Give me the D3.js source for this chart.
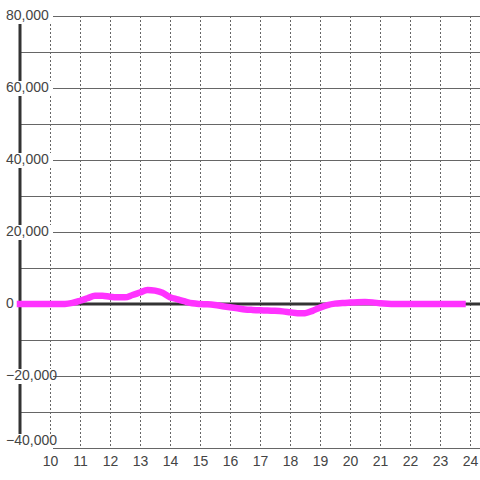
<!DOCTYPE html>
<html>
<head>
<meta charset="utf-8">
<script src="https://cdn.jsdelivr.net/npm/d3@7"></script>
<style>
  html, body { margin: 0; padding: 0; background: #ffffff; }
  svg { display: block; }
  text { font-family: "Liberation Sans", Arial, sans-serif; }
</style>
</head>
<body>
<svg id="chart" width="480" height="480"></svg>
<script>
// ---- data ----
// values every 15 minutes from 9:00 to 23:45
const startHour = 9;
const stepHours = 0.25;
const values = [
  0, 0, 0, 0,                 // 9:00 - 9:45
  0, 0, 0, 300,               // 10
  900, 1600, 2300, 2300,      // 11
  2000, 1850, 1850, 2500,     // 12
  3200, 3900, 3700, 3100,     // 13
  1900, 1300, 700, 200,       // 14
  0, -100, -300, -600,        // 15
  -900, -1200, -1500, -1650,  // 16
  -1750, -1800, -1900, -2050, // 17
  -2300, -2550, -2550, -1900, // 18
  -1000, -300, 100, 250,      // 19
  400, 500, 550, 450,         // 20
  200, 50, 0, 0,              // 21
  0, 0, 0, 0,                 // 22
  0, 0, 0, 0                  // 23
];
const yTicks = [80000, 60000, 40000, 20000, 0, -20000, -40000];
const yGrid = [80000, 70000, 60000, 50000, 40000, 30000, 20000, 10000, 0, -10000, -20000, -30000, -40000];
const xTicks = [10, 11, 12, 13, 14, 15, 16, 17, 18, 19, 20, 21, 22, 23, 24];

// ---- layout ----
const svg = d3.select("#chart");
const mLeft = 20, mRight = 480, mTop = 16, mBottom = 448;

const x = d3.scaleLinear().domain([9, 24 + 1/3]).range([mLeft, mRight]);
const y = d3.scaleLinear().domain([-40000, 80000]).range([mBottom, mTop]);

// horizontal grid lines
svg.append("g").selectAll("line").data(yGrid).join("line")
  .attr("x1", mLeft).attr("x2", mRight)
  .attr("y1", d => y(d)).attr("y2", d => y(d))
  .attr("stroke", "#666").attr("stroke-width", 1)
  .attr("shape-rendering", "crispEdges");

// vertical dashed grid lines
svg.append("g").selectAll("line").data(xTicks).join("line")
  .attr("x1", d => x(d) + 0.5).attr("x2", d => x(d) + 0.5)
  .attr("y1", mTop).attr("y2", mBottom)
  .attr("stroke", "#666").attr("stroke-width", 1)
  .attr("stroke-dasharray", "2,2");

// zero line
svg.append("line")
  .attr("x1", mLeft).attr("x2", mRight)
  .attr("y1", y(0)).attr("y2", y(0))
  .attr("stroke", "#333").attr("stroke-width", 3);

// y axis line
svg.append("line")
  .attr("x1", mLeft).attr("x2", mLeft)
  .attr("y1", mTop).attr("y2", mBottom)
  .attr("stroke", "#333").attr("stroke-width", 3);

// y axis labels (left aligned, with background)
const yAxis = d3.axisLeft(y).tickValues(yTicks).tickSize(0).tickPadding(0)
  .tickFormat(d3.format(","));
const yg = svg.append("g").attr("transform", "translate(6,0)").call(yAxis);
yg.select(".domain").remove();
yg.selectAll(".tick")
  .attr("transform", d => {
    let ty = y(d);
    if (ty + 7 > mBottom) ty = mBottom - 7;   // keep last label inside plot
    return `translate(0,${ty})`;
  });
yg.selectAll(".tick text")
  .attr("text-anchor", "start")
  .attr("x", 0)
  .attr("font-size", 14)
  .attr("fill", "#444")
  .attr("font-family", "'Liberation Sans', Arial, sans-serif");
yg.selectAll(".tick").each(function(d) {
  const t = d3.select(this);
  const bb = t.select("text").node().getBBox();
  const wRight = d === 0 ? bb.x + bb.width + 1 : 47;
  t.insert("rect", "text")
    .attr("x", bb.x - 1).attr("y", -7)
    .attr("width", wRight - bb.x + 1).attr("height", 15)
    .attr("fill", "#ffffff");
});

// x axis labels
const xAxis = d3.axisBottom(x).tickValues(xTicks).tickSize(0).tickPadding(8)
  .tickFormat(d3.format("d"));
const xg = svg.append("g").attr("transform", `translate(0,${mBottom})`).call(xAxis);
xg.select(".domain").remove();
xg.selectAll(".tick text")
  .attr("font-size", 14)
  .attr("fill", "#444")
  .attr("font-family", "'Liberation Sans', Arial, sans-serif");

// data line
const line = d3.line()
  .x((d, i) => x(startHour + i * stepHours))
  .y(d => y(d))
  .curve(d3.curveMonotoneX);
svg.append("path")
  .datum(values)
  .attr("d", line)
  .attr("fill", "none")
  .attr("stroke", "#ff33ff")
  .attr("stroke-width", 6.5)
  .attr("stroke-linejoin", "round")
  .attr("stroke-linecap", "square");
</script>
</body>
</html>
